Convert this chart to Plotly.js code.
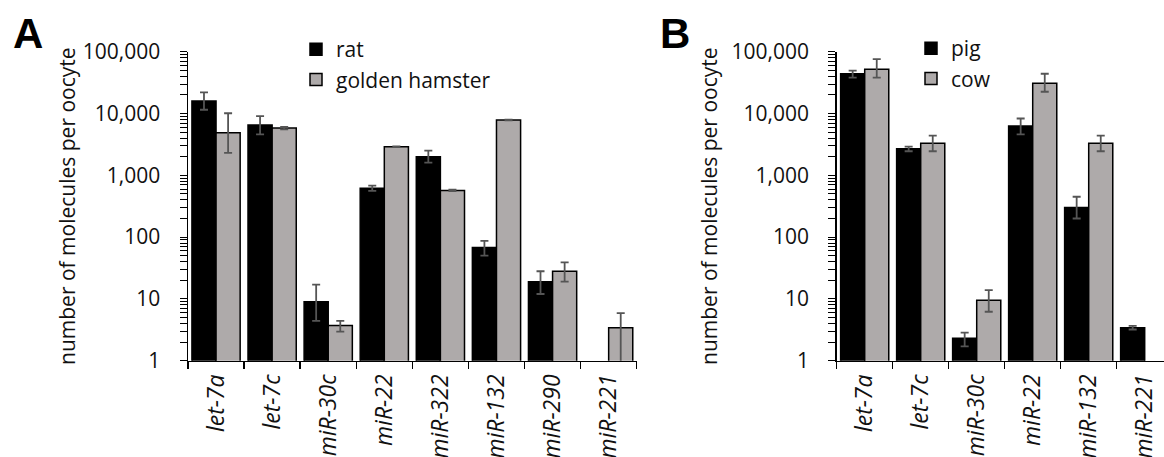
<!DOCTYPE html>
<html>
<head>
<meta charset="utf-8">
<script src="https://cdn.plot.ly/plotly-3.0.1.min.js"></script>
<style>
html, body { margin: 0; padding: 0; overflow: hidden; background: #fff; }
#chart { width: 1180px; height: 457px; }
</style>
</head>
<body>
<div id="chart"></div>
<script>
// Panel A: rat vs golden hamster
const catsA = ['let-7a', 'let-7c', 'miR-30c', 'miR-22', 'miR-322', 'miR-132', 'miR-290', 'miR-221'];
const rat = [16000, 6500, 9, 620, 2000, 68, 19, null];
const ratPlus = [6000, 2600, 8, 60, 500, 19, 9, 0];
const ratMinus = [4500, 1900, 4.6, 60, 400, 18, 7, 0];
const hamster = [4900, 5800, 3.7, 2900, 570, 7850, 28, 3.4];
const hamPlus = [5200, 250, 0.7, 40, 15, 80, 11, 2.5];
const hamMinus = [2600, 250, 0.75, 40, 15, 80, 9, 2.5];

// Panel B: pig vs cow
const catsB = ['let-7a', 'let-7c', 'miR-30c', 'miR-22', 'miR-132', 'miR-221'];
const pig = [44000, 2700, 2.3, 6300, 300, 3.4];
const pigPlus = [5500, 220, 0.55, 2000, 150, 0.25];
const pigMinus = [6000, 250, 0.6, 1700, 100, 0.2];
const cow = [52000, 3300, 9.5, 31000, 3300, null];
const cowPlus = [24000, 1100, 4.4, 13000, 1100, 0];
const cowMinus = [14000, 850, 3.3, 8500, 850, 0];

// y tick labels (decades) ; minor tick marks at 2..9 of each decade carry no label
const decadeVals = [1, 10, 100, 1000, 10000, 100000];
const decadeText = ['1', '10', '100', '1,000', '10,000', '100,000'];
const minorDigits = [2, 3, 4, 5, 6, 7, 8, 9];
const yTickVals = [], yTickText = [];
decadeVals.forEach((d, i) => {
  yTickVals.push(d); yTickText.push(decadeText[i]);
  if (i < decadeVals.length - 1) minorDigits.forEach(m => { yTickVals.push(d * m); yTickText.push(''); });
});
const yTitle = 'number of molecules per oocyte';

const W = 1180, H = 457;
const FONT = '"Open Sans", "Noto Sans", sans-serif';
const BLACK = '#000000';
const GRAY = '#AEAAAA';
const ERR = '#555555';

function errBar(plus, minus) {
  return { type: 'data', symmetric: false, array: plus, arrayminus: minus,
           color: ERR, thickness: 1.8, width: 4 };
}

const traces = [
  { type: 'bar', name: 'rat', x: catsA, y: rat, xaxis: 'x', yaxis: 'y', legend: 'legend',
    marker: { color: BLACK, line: { color: BLACK, width: 1.5 } }, error_y: errBar(ratPlus, ratMinus) },
  { type: 'bar', name: 'golden hamster', x: catsA, y: hamster, xaxis: 'x', yaxis: 'y', legend: 'legend',
    marker: { color: GRAY, line: { color: BLACK, width: 1.5 } }, error_y: errBar(hamPlus, hamMinus) },
  { type: 'bar', name: 'pig', x: catsB, y: pig, xaxis: 'x2', yaxis: 'y2', legend: 'legend2',
    marker: { color: BLACK, line: { color: BLACK, width: 1.5 } }, error_y: errBar(pigPlus, pigMinus) },
  { type: 'bar', name: 'cow', x: catsB, y: cow, xaxis: 'x2', yaxis: 'y2', legend: 'legend2',
    marker: { color: GRAY, line: { color: BLACK, width: 1.5 } }, error_y: errBar(cowPlus, cowMinus) }
];

const yDomain = [(H - 360.7) / H, (H - 51.7) / H];

function xAxis(domain, anchor) {
  return {
    domain: domain, anchor: anchor, type: 'category',
    showline: true, linecolor: BLACK, linewidth: 1.5,
    ticks: 'outside', tickson: 'boundaries', ticklen: 7, tickwidth: 1.5, tickcolor: BLACK,
    tickangle: -90, showgrid: false, zeroline: false,
    tickfont: { family: FONT, size: 23, color: '#111', style: 'italic' },
    ticklabelstandoff: 3
  };
}
function yAxis(anchor, standoff) {
  return {
    domain: yDomain, anchor: anchor, type: 'log', range: [0, 5],
    showline: true, linecolor: BLACK, linewidth: 1.5,
    tickmode: 'array', tickvals: yTickVals, ticktext: yTickText,
    ticks: 'outside', ticklen: 7, tickwidth: 1, tickcolor: BLACK,
    showgrid: false, zeroline: false,
    tickfont: { family: FONT, size: 21, color: '#111' },
    ticklabelstandoff: 15,
    title: { text: yTitle, font: { family: FONT, size: 21, color: '#111' }, standoff: standoff }
  };
}

const layout = {
  width: W, height: H,
  margin: { l: 0, r: 0, t: 0, b: 0, pad: 0 },
  paper_bgcolor: '#fff', plot_bgcolor: 'rgba(0,0,0,0)',
  barmode: 'group', bargap: 0.14, bargroupgap: 0,
  font: { family: FONT, size: 21, color: '#111' },
  xaxis: xAxis([188 / W, 636.7 / W], 'y'),
  yaxis: yAxis('x', 1),
  xaxis2: xAxis([836.7 / W, 1172.7 / W], 'y2'),
  yaxis2: yAxis('x2', 8),
  legend: { x: 296 / W, xanchor: 'left', y: 1 - 29 / H, yanchor: 'top',
            bgcolor: 'rgba(0,0,0,0)', font: { family: FONT, size: 21, color: '#111' },
            tracegroupgap: 0, traceorder: 'normal' },
  legend2: { x: 911 / W, xanchor: 'left', y: 1 - 28 / H, yanchor: 'top',
             bgcolor: 'rgba(0,0,0,0)', font: { family: FONT, size: 21, color: '#111' },
             tracegroupgap: 0, traceorder: 'normal' },
  annotations: [
    { text: '<b>A</b>', xref: 'paper', yref: 'paper', x: 27.5 / W, y: 1 - 34 / H,
      xanchor: 'center', yanchor: 'middle', showarrow: false,
      font: { family: 'Liberation Sans, Arial, sans-serif', size: 42, color: '#000' } },
    { text: '<b>B</b>', xref: 'paper', yref: 'paper', x: 675 / W, y: 1 - 34 / H,
      xanchor: 'center', yanchor: 'middle', showarrow: false,
      font: { family: 'Liberation Sans, Arial, sans-serif', size: 42, color: '#000' } }
  ]
};

Plotly.newPlot('chart', traces, layout, { displayModeBar: false, staticPlot: true });
</script>
</body>
</html>
